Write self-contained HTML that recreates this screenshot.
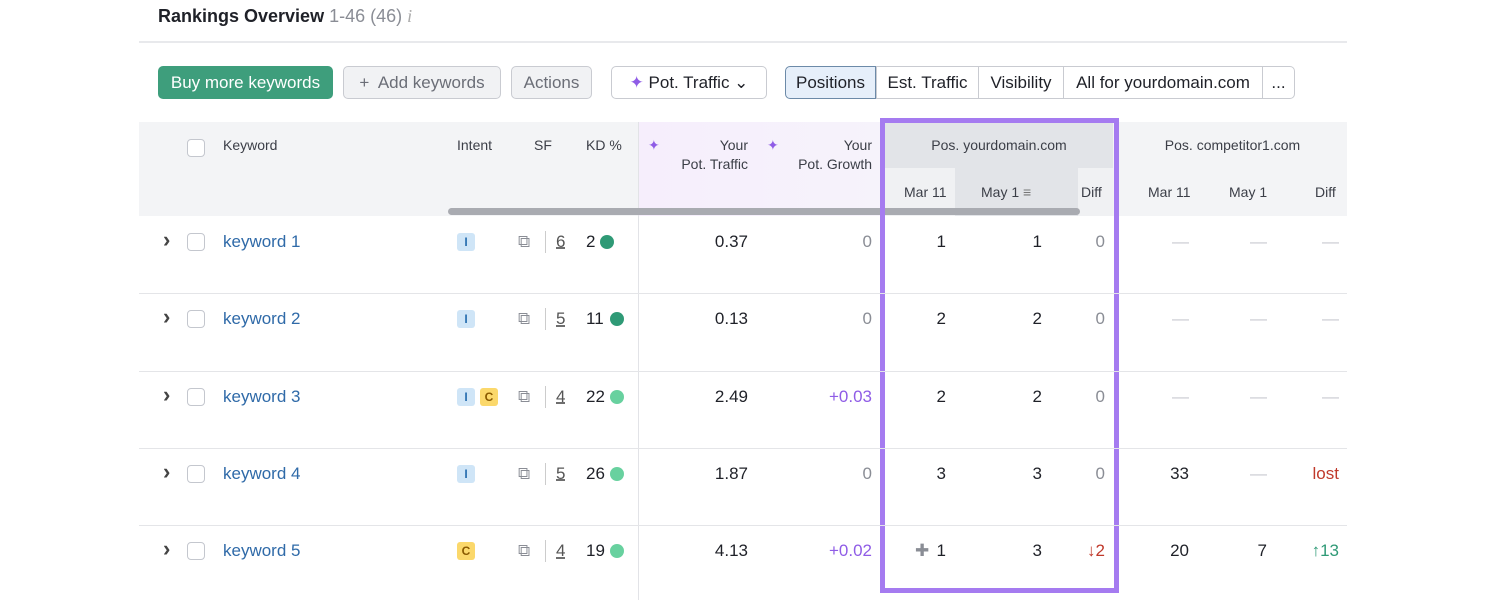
<!DOCTYPE html>
<html><head><meta charset="utf-8"><style>
*{box-sizing:border-box;margin:0;padding:0}
body{width:1500px;height:600px;background:#fff;font-family:"Liberation Sans",sans-serif;position:relative;overflow:hidden;color:#1f2128}
.a{position:absolute;white-space:nowrap}
.btn{position:absolute;top:66px;height:33px;border-radius:5px;font-size:17px;line-height:31px;text-align:center;border:1px solid #c9cbd1;background:#f1f2f4;color:#6b6e77}
.h{position:absolute;font-size:14px;color:#3b3e47;line-height:19px}
.cb{position:absolute;width:18px;height:18px;border:1px solid #c4c7ce;border-radius:4px;background:#fff}
.cell{position:absolute;font-size:17px;line-height:20px}
</style></head><body>
<div class="a" style="left:158px;top:5px;font-size:18px;font-weight:bold;line-height:22px">Rankings Overview <span style="font-weight:normal;color:#8a8d95">1-46 (46)</span> <span style="font-weight:normal;color:#aaa;font-style:italic;font-family:'Liberation Serif',serif">i</span></div>
<div class="a" style="left:139px;top:41px;width:1208px;height:2px;background:#e8e9ec"></div>
<div class="btn" style="left:158px;width:175px;background:#3e9e7c;border-color:#3e9e7c;color:#fff">Buy more keywords</div>
<div class="btn" style="left:343px;width:158px">+&nbsp; Add keywords</div>
<div class="btn" style="left:511px;width:81px">Actions</div>
<div class="btn" style="left:611px;width:156px;background:#fff;color:#1f2128"><span style="color:#8f5ce6">✦</span> Pot. Traffic ⌄</div>
<div class="btn" style="left:785px;width:91px;background:#e6effa;border-color:#6c8aa8;color:#1f2128;border-radius:5px 0 0 5px">Positions</div>
<div class="btn" style="left:876px;width:103px;background:#fff;color:#1f2128;border-radius:0">Est. Traffic</div>
<div class="btn" style="left:978px;width:86px;background:#fff;color:#1f2128;border-radius:0">Visibility</div>
<div class="btn" style="left:1063px;width:200px;background:#fff;color:#1f2128;border-radius:0">All for yourdomain.com</div>
<div class="btn" style="left:1262px;width:33px;background:#fff;color:#1f2128;border-radius:0 5px 5px 0">...</div>

<div class="a" style="left:139px;top:122px;width:1208px;height:94px;background:#f3f4f6"></div>
<div class="a" style="left:638px;top:122px;width:242px;height:94px;background:linear-gradient(90deg,#f6eefc,#f6f3fb)"></div>
<div class="a" style="left:638px;top:122px;width:1px;height:478px;background:#e2e3e7"></div>
<div class="a" style="left:885px;top:122px;width:228px;height:46px;background:#e2e4e8"></div>
<div class="a" style="left:885px;top:168px;width:228px;height:48px;background:#f0f1f3"></div>
<div class="a" style="left:955px;top:168px;width:123px;height:48px;background:#e2e4e8"></div>
<div class="a" style="left:448px;top:208px;width:632px;height:7px;border-radius:4px;background:#a9abb1"></div>

<div class="cb" style="left:187px;top:139px"></div>
<div class="h" style="left:223px;top:136px">Keyword</div>
<div class="h" style="left:457px;top:136px">Intent</div>
<div class="h" style="left:534px;top:136px">SF</div>
<div class="h" style="left:586px;top:136px">KD %</div>
<div class="h" style="left:648px;top:136px;width:100px;text-align:right"><span style="color:#8f5ce6;float:left">✦</span>Your<br>Pot. Traffic</div>
<div class="h" style="left:767px;top:136px;width:105px;text-align:right"><span style="color:#8f5ce6;float:left">✦</span>Your<br>Pot. Growth</div>
<div class="h" style="left:885px;top:136px;width:228px;text-align:center">Pos. yourdomain.com</div>
<div class="h" style="left:1118px;top:136px;width:229px;text-align:center">Pos. competitor1.com</div>
<div class="h" style="left:904px;top:183px">Mar 11</div>
<div class="h" style="left:981px;top:183px">May 1 <span style="color:#777">≡</span></div>
<div class="h" style="left:1081px;top:183px">Diff</div>
<div class="h" style="left:1148px;top:183px">Mar 11</div>
<div class="h" style="left:1229px;top:183px">May 1</div>
<div class="h" style="left:1315px;top:183px">Diff</div>

<div class="a" style="left:880px;top:118px;width:239px;height:475px;border:5px solid #a57bf0"></div>

<script>
const keywords=["keyword 1","keyword 2","keyword 3","keyword 4","keyword 5"];
const intents=[["I"],["I"],["I","C"],["I"],["C"]];
const sf=[6,5,4,5,4];
const kd=[2,11,22,26,19];
const potTraffic=["0.37","0.13","2.49","1.87","4.13"];
const potGrowth=["0","0","+0.03","0","+0.02"];
const domMar=["1","2","2","3","1"];
const domMay=["1","2","2","3","3"];
const domDiff=["0","0","0","0","↓2"];
const compMar=["—","—","—","33","20"];
const compMay=["—","—","—","—","7"];
const compDiff=["—","—","—","lost","↑13"];
const rowTop=216,rowH=77.3;
function mk(l,t,txt,cls,st){const d=document.createElement('div');d.className=cls||'cell';d.style.left=l+'px';d.style.top=t+'px';if(st)d.style.cssText+=st;d.textContent=txt;document.body.appendChild(d);return d;}
function right(r,t,txt,w,col){return mk(r-w,t,txt,'cell','width:'+w+'px;text-align:right;color:'+col);}
keywords.forEach((k,i)=>{
 const cy=rowTop+rowH*i+26, ty=cy-10;
 if(i>0){const ln=mk(139,rowTop+rowH*i,'','a','width:1208px;height:1px;background:#e4e5e8');
 
 }
 let e=mk(163,cy-12,'›','cell','font-size:22px;color:#444;font-weight:bold');
 
 
 e=mk(187,cy-9,'','cb');
 
 
 e=mk(223,ty,k,'cell','color:#2f6aa8');
 
 
 intents[i].forEach((it,j)=>{const b=mk(457+j*23,cy-9,it,'cell','width:18px;height:18px;font-size:12px;line-height:18px;text-align:center;font-weight:bold;border-radius:3px;background:'+(it=='I'?'#cfe5f7':'#fbd86b')+';color:'+(it=='I'?'#2a6fb0':'#8a5a00'));
  
  });
 e=mk(518,cy-10,'⧉','cell','font-size:17px;color:#8a8d95');
 
 
 e=mk(545,cy-11,'','a','width:1px;height:22px;background:#ccc');
 
 
 e=mk(556,ty,sf[i],'cell','color:#555;text-decoration:underline dashed');
 
 
 e=mk(586,ty,kd[i]+'','cell');
 
 
 const dx=586+String(kd[i]).length*10+4;
 e=mk(dx,cy-7,'','a','width:14px;height:14px;border-radius:50%;background:'+(kd[i]<15?'#2f9a76':'#68d19f'));
 
 
 e=right(748,ty,potTraffic[i],80,'#1f2128');
 
 
 e=right(872,ty,potGrowth[i],80,potGrowth[i]=='0'?'#8a8d95':'#8f5ce6');
 
 
 e=right(946,ty,domMar[i],40,'#1f2128');
 
 
 if(i==4){e=mk(915,cy-10,'✚','cell','font-size:17px;color:#8a8d95');
  
  }
 e=right(1042,ty,domMay[i],40,'#1f2128');
 
 
 e=right(1105,ty,domDiff[i],40,domDiff[i]=='0'?'#8a8d95':'#c0392b');
 
 
 const c=(v)=>v=='—'?'#c8cad0':v=='lost'?'#c0392b':v.startsWith('↑')?'#2f9a76':'#1f2128';
 e=right(1189,ty,compMar[i],40,c(compMar[i]));
 
 
 e=right(1267,ty,compMay[i],40,c(compMay[i]));
 
 
 e=right(1339,ty,compDiff[i],50,c(compDiff[i]));
 
 
});
</script>
</body></html>
